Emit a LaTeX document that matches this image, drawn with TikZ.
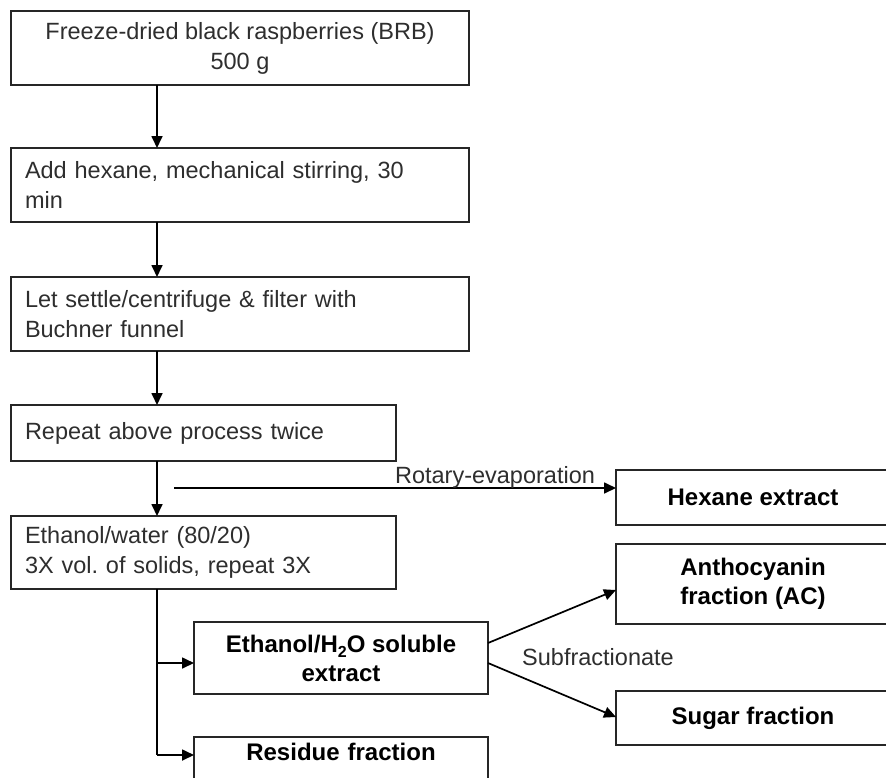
\documentclass[tikz,border=0pt]{standalone}
\usepackage{fontspec}
\setmainfont{Liberation Sans}
\usetikzlibrary{arrows.meta}
\definecolor{txtgray}{HTML}{2E2E2E}
\definecolor{linegray}{HTML}{262626}
\newcommand{\lowsub}[1]{\raisebox{-0.45ex}{\fontsize{16}{16}\selectfont #1}}
\tikzset{
  box/.style={draw=linegray, line width=1.7pt, anchor=north west, inner sep=0pt, outer sep=0pt},
  reg/.style={font=\fontsize{23.5}{30}\selectfont\frenchspacing, text=txtgray},
  bld/.style={font=\fontsize{24}{29}\selectfont\bfseries, text=black},
  conn/.style={line width=1.7pt, draw=black},
  arr/.style={conn, -{Triangle[length=12pt,width=11pt]}},
  lbl/.style={font=\fontsize{23.5}{28}\selectfont, text=txtgray, anchor=base, inner sep=0pt}
}
\begin{document}
\begin{tikzpicture}[x=1pt,y=-1pt]
\useasboundingbox (0,0) rectangle (886,777);
\clip (0,0) rectangle (886,777);
\fill[white] (0,0) rectangle (886,777);

% main column boxes
\node[box, reg, minimum width=458pt, minimum height=74pt, align=center] (b1) at (11,11)
  {Freeze-dried black raspberries (BRB)\\500 g};
\node[box, reg, minimum width=458pt, minimum height=74pt, text width=430pt, inner xsep=14pt, align=left] (b2) at (11,148)
  {Add hexane, mechanical stirring, 30\\min};
\node[box, reg, minimum width=458pt, minimum height=74pt, text width=430pt, inner xsep=14pt, align=left] (b3) at (11,277)
  {Let settle/centrifuge \& filter with\\Buchner funnel};
\node[box, reg, minimum width=385pt, minimum height=56pt, text width=357pt, inner xsep=14pt, align=left] (b4) at (11,405)
  {Repeat above process twice};
\node[box, reg, minimum width=385pt, minimum height=73pt, text width=357pt, inner xsep=14pt, align=left] (b5) at (11,516)
  {Ethanol/water (80/20)\\3X vol. of solids, repeat 3X};

% right side boxes
\node[box, bld, minimum width=274pt, minimum height=55pt, align=center] (hex) at (616,470) {Hexane extract};
\node[box, bld, minimum width=274pt, minimum height=80pt, align=center] (anth) at (616,544) {Anthocyanin\\fraction (AC)};
\node[box, bld, minimum width=274pt, minimum height=54pt, align=center] (sug) at (616,691) {Sugar fraction};

% lower boxes
\node[box, bld, minimum width=294pt, minimum height=72pt, align=center] (sol) at (194,622)
  {Ethanol/H\lowsub{2}O soluble\\extract};
\node[box, bld, minimum width=294pt, text width=294pt, align=center, text height=17pt, text depth=30pt, inner ysep=6.5pt] (res) at (194,737)
  {Residue fraction};

% connectors
\coordinate (spine) at (157,0);
\draw[arr] (b1.south -| spine) -- (b2.north -| spine);
\draw[arr] (b2.south -| spine) -- (b3.north -| spine);
\draw[arr] (b3.south -| spine) -- (b4.north -| spine);
\draw[arr] (b4.south -| spine) -- (b5.north -| spine);

\coordinate (rs) at (174,488);
\draw[arr] (rs) -- (rs -| hex.west);
\node[lbl] (rotlbl) at (495,483) {Rotary-evaporation};

\coordinate (jsol) at (157,663);
\coordinate (jres) at (157,755);
\draw[conn] (b5.south -| spine) -- (jres);
\draw[arr] (jsol) -- (jsol -| sol.west);
\draw[arr] (jres) -- (jres -| res.west);

\coordinate (sa) at (488,643);
\coordinate (sb) at (488,663);
\coordinate (ta) at (616,590);
\coordinate (tb) at (616,717);
\draw[arr] (sol.east |- sa) -- (anth.west |- ta);
\draw[arr] (sol.east |- sb) -- (sug.west |- tb);
\node[lbl] (sublbl) at (598,665) {Subfractionate};
\end{tikzpicture}
\end{document}
